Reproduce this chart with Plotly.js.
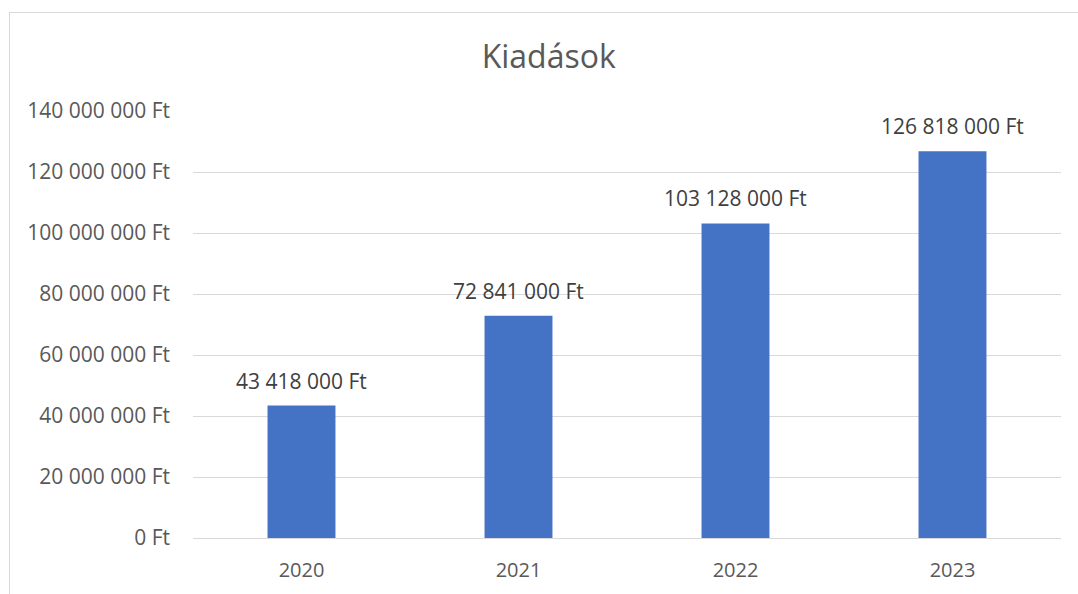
<!DOCTYPE html>
<html>
<head>
<meta charset="utf-8">
<script src="https://cdn.plot.ly/plotly-3.0.1.min.js"></script>
<style>
html,body{margin:0;padding:0;background:#fff;}
#wrap{position:relative;width:1078px;height:594px;}
#chart{width:1078px;height:594px;}
#frame{position:absolute;left:9px;top:12px;width:1069px;height:582px;border-left:1px solid #d9d9d9;border-top:1px solid #d9d9d9;pointer-events:none;}
</style>
</head>
<body>
<div id="wrap"><div id="chart"></div><div id="frame"></div></div>
<script>
var years = ['2020', '2021', '2022', '2023'];
var expenses = [43418000, 72841000, 103128000, 126818000];
var yTicks = [0, 20000000, 40000000, 60000000, 80000000, 100000000, 120000000, 140000000];

function fmt(v) {
  return String(v).replace(/\B(?=(\d{3})+(?!\d))/g, ' ') + ' Ft';
}

var font = '"Open Sans", "Noto Sans", sans-serif';

var trace = {
  type: 'bar',
  x: years,
  y: expenses,
  marker: {color: '#4472C4'},
  width: 0.313,
  hoverinfo: 'none'
};

var labels = years.map(function (yr, i) {
  return {
    x: i,
    y: expenses[i],
    xref: 'x',
    yref: 'y',
    text: fmt(expenses[i]),
    showarrow: false,
    xanchor: 'center',
    yanchor: 'bottom',
    yshift: 9,
    font: {family: font, size: 21, color: '#404040'}
  };
});

var layout = {
  width: 1078,
  height: 594,
  margin: {l: 193, r: 17, t: 111, b: 56},
  paper_bgcolor: '#ffffff',
  plot_bgcolor: '#ffffff',
  showlegend: false,
  title: {
    text: 'Kiadások',
    font: {family: font, size: 32, color: '#595959'},
    xref: 'container', x: 0.509, xanchor: 'center',
    yref: 'container', y: 1 - 57/594, yanchor: 'middle'
  },
  annotations: labels,
  xaxis: {
    type: 'category',
    categoryarray: years,
    range: [-0.5, years.length - 0.5],
    tickfont: {family: font, size: 20, color: '#595959'},
    showgrid: false,
    showline: true,
    linecolor: '#d9d9d9',
    linewidth: 1,
    ticks: '',
    ticklabelstandoff: 14,
    fixedrange: true
  },
  yaxis: {
    range: [0, 140000000],
    tickvals: yTicks,
    ticktext: yTicks.map(fmt),
    tickfont: {family: font, size: 21, color: '#595959'},
    showgrid: true,
    gridcolor: '#d9d9d9',
    gridwidth: 1,
    zeroline: false,
    showline: false,
    ticks: '',
    ticklabelstandoff: 22,
    fixedrange: true
  },
  bargap: 0.687
};

Plotly.newPlot('chart', [trace], layout, {displayModeBar: false, staticPlot: true});
</script>
</body>
</html>
